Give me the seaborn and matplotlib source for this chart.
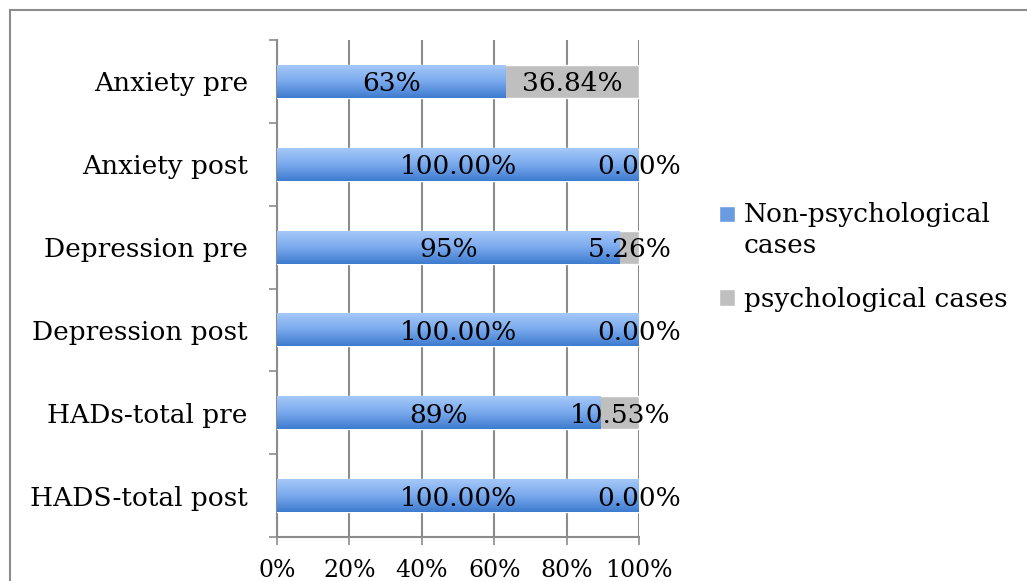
import numpy as np
import pandas as pd
import seaborn as sns
import matplotlib.pyplot as plt
from matplotlib.patches import Patch, Rectangle
from matplotlib.colors import LinearSegmentedColormap
from matplotlib.legend_handler import HandlerPatch

categories = ['Anxiety pre', 'Anxiety post', 'Depression pre', 'Depression post',
              'HADs-total pre', 'HADS-total post']
non_psych = [63.16, 100.0, 94.74, 100.0, 89.47, 100.0]
psych = [36.84, 0.0, 5.26, 0.0, 10.53, 0.0]
non_labels = ['63%', '100.00%', '95%', '100.00%', '89%', '100.00%']
psych_labels = ['36.84%', '0.00%', '5.26%', '0.00%', '10.53%', '0.00%']
x_ticks = [0, 20, 40, 60, 80, 100]
series_names = ['Non-psychological\ncases', 'psychological cases']

df = pd.DataFrame({'category': categories, 'non_psych': non_psych, 'psych': psych})
df['total'] = df['non_psych'] + df['psych']

sns.set_style('white')
plt.rcParams['font.family'] = ['DejaVu Serif']
plt.rcParams['text.color'] = 'black'
plt.rcParams['xtick.labelcolor'] = 'black'
plt.rcParams['ytick.labelcolor'] = 'black'

gray = '#BFBFBF'
blue_cmap = LinearSegmentedColormap.from_list('blue', ['#A7CAF9', '#7BAAEE', '#3E7CCF'])

fig = plt.figure(figsize=(10.27, 5.81), dpi=100)
ax = fig.add_axes([277 / 1027, 1 - 537 / 581, (639 - 277) / 1027, (537 - 40) / 581])

fig.patches.append(Rectangle((10 / 1027, -0.01), 1.0, 1 - 10 / 581 + 0.01,
                             transform=fig.transFigure, fill=False,
                             edgecolor='#8C8C8C', linewidth=1.5, zorder=0))

sns.barplot(data=df, x='total', y='category', color=gray, width=0.4,
            orient='h', ax=ax, saturation=1, zorder=3)
n_before = len(ax.patches)
sns.barplot(data=df, x='non_psych', y='category', color='#6A9BE0', width=0.4,
            orient='h', ax=ax, saturation=1, zorder=4)

# gradient fill for the blue bars (light at top, darker at bottom)
grad = np.linspace(0, 1, 64).reshape(-1, 1)
for p in ax.patches[n_before:]:
    x0, y0 = p.get_x(), p.get_y()
    w, h = p.get_width(), p.get_height()
    if w <= 0:
        continue
    im = ax.imshow(grad, cmap=blue_cmap, aspect='auto', origin='upper',
                   extent=(x0, x0 + w, y0 + h, y0), zorder=4)
    im.set_clip_path(p)
    p.set_facecolor('none')
    p.set_edgecolor('none')

ax.set_xlim(0, 100)
ax.set_ylim(len(categories) - 0.5, -0.5)

for i in range(len(categories)):
    ax.text(non_psych[i] / 2, i + 0.03, non_labels[i], ha='center', va='center',
            fontsize=19, zorder=6)
    ax.text(non_psych[i] + psych[i] / 2, i + 0.03, psych_labels[i], ha='center',
            va='center', fontsize=19, zorder=6)

ax.set_xticks(x_ticks)
ax.set_xticklabels([f'{t}%' for t in x_ticks], fontsize=17)
ax.set_yticks(range(len(categories)))
ax.set_yticklabels(categories, fontsize=19)
ax.set_yticks(np.arange(-0.5, len(categories), 1), minor=True)
ax.tick_params(axis='y', which='major', length=0, pad=21)
ax.tick_params(axis='y', which='minor', length=6, width=1.2, color='#8C8C8C', direction='out', left=True)
ax.tick_params(axis='x', length=6, width=1.2, color='#8C8C8C', direction='out', bottom=True, pad=10)
ax.set_xlabel('')
ax.set_ylabel('')

ax.grid(axis='x', color='#8C8C8C', linewidth=1.5, zorder=0)
ax.set_axisbelow(True)
for side in ['top', 'right']:
    ax.spines[side].set_visible(False)
for side in ['left', 'bottom']:
    ax.spines[side].set_color('#8C8C8C')
    ax.spines[side].set_linewidth(1.5)


class RaisedHandler(HandlerPatch):
    def __init__(self, raise_by, **kw):
        super().__init__(**kw)
        self.raise_by = raise_by

    def create_artists(self, legend, orig_handle, xdescent, ydescent, width, height, fontsize, trans):
        arts = super().create_artists(legend, orig_handle, xdescent, ydescent, width, height, fontsize, trans)
        for a in arts:
            a.set_y(a.get_y() + self.raise_by * fontsize)
        return arts


blue_handle = Patch(facecolor='#6A9BE0')
gray_handle = Patch(facecolor=gray)
leg = fig.legend([blue_handle, gray_handle], series_names, loc='upper left',
                 bbox_to_anchor=(695 / 1027, 1 - 178 / 581),
                 frameon=False, fontsize=19, handlelength=0.6, handleheight=0.6,
                 handletextpad=0.35, labelspacing=1.1,
                 handler_map={blue_handle: RaisedHandler(0.62)})
for t in leg.get_texts():
    t.set_linespacing(1.3)

fig.savefig('out.png', dpi=100)
